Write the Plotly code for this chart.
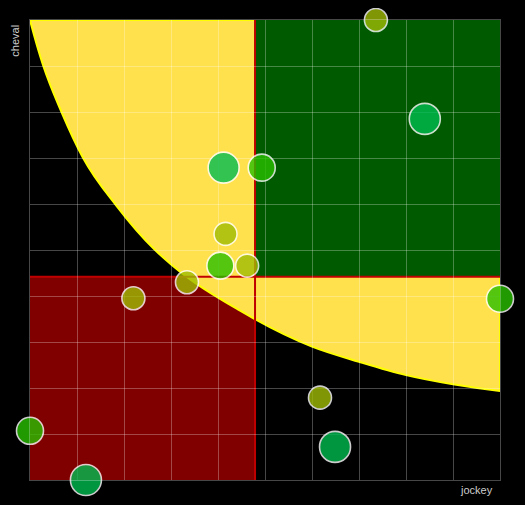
import numpy as np
import plotly.graph_objects as go

# ---- data (0-100 scale) ----
jockey = [73.6, 84.0, 41.2, 49.3, 41.6, 40.5, 46.2, 33.4, 22.0, 100.0, 61.7, 64.9, 0.0, 11.9]
cheval = [100.0, 78.5, 67.9, 67.9, 53.5, 46.6, 46.6, 43.0, 39.5, 39.4, 17.9, 7.2, 10.7, 0.0]
niveau = [1, 3, 3, 2, 1, 2, 1, 1, 1, 2, 1, 3, 2, 3]

# threshold curve, points
curve_x = [0, 2.8, 6.7, 11.3, 18.4, 26.5, 30.1, 44.7, 60, 70, 80, 90, 100]
curve_y = [100, 90.1, 80.0, 70.0, 59.6, 50.1, 46.8, 36.8, 29.0, 25.7, 22.8, 20.8, 19.35]

colors = {1: "#a0bc05", 2: "#2ac000", 3: "#00bc51"}
sizes = {1: 23, 2: 27, 3: 31}

mean_x = float(np.mean(jockey))
mean_y = float(np.mean(cheval))


def smooth_path(xs, ys):
    xs = np.asarray(xs, float)
    ys = np.asarray(ys, float)
    n = len(xs)
    h = np.diff(xs)
    d = np.diff(ys) / h
    m = np.zeros(n)
    for i in range(1, n - 1):
        m[i] = (d[i - 1] * h[i] + d[i] * h[i - 1]) / (h[i - 1] + h[i])
    m[0] = ((2 * h[0] + h[1]) * d[0] - h[0] * d[1]) / (h[0] + h[1])
    m[-1] = ((2 * h[-1] + h[-2]) * d[-1] - h[-1] * d[-2]) / (h[-1] + h[-2])
    p = f"M {xs[0]:.3f},{ys[0]:.3f}"
    for i in range(n - 1):
        c1x = xs[i] + h[i] / 3
        c1y = ys[i] + m[i] * h[i] / 3
        c2x = xs[i + 1] - h[i] / 3
        c2y = ys[i + 1] - m[i + 1] * h[i] / 3
        p += f" C {c1x:.3f},{c1y:.3f} {c2x:.3f},{c2y:.3f} {xs[i+1]:.3f},{ys[i+1]:.3f}"
    return p


curve = smooth_path(curve_x, curve_y)

fig = go.Figure()
fig.add_trace(go.Scatter(
    x=jockey, y=cheval, mode="markers",
    marker=dict(
        color=[colors[n] for n in niveau],
        size=[sizes[n] for n in niveau],
        opacity=0.8,
        line=dict(color="white", width=1.6),
    ),
    cliponaxis=False,
    hoverinfo="x+y",
    showlegend=False,
))

shapes = [
    dict(type="rect", xref="x", yref="y", x0=0, x1=mean_x, y0=0, y1=mean_y,
         fillcolor="#800000", line=dict(width=0), layer="below"),
    dict(type="path", xref="x", yref="y", path=curve + " L 100,100 Z",
         fillcolor="#ffe14d", line=dict(color="#ffff00", width=2), layer="below"),
    dict(type="rect", xref="x", yref="y", x0=mean_x, x1=100, y0=mean_y, y1=100,
         fillcolor="#005a00", line=dict(width=0), layer="below"),
    dict(type="line", xref="x", yref="y", x0=mean_x, x1=mean_x, y0=0, y1=100,
         line=dict(color="#c00000", width=2), layer="below"),
    dict(type="line", xref="x", yref="y", x0=0, x1=100, y0=mean_y, y1=mean_y,
         line=dict(color="#c00000", width=2), layer="below"),
]

grid = "rgba(255,255,255,0.28)"
axis_common = dict(range=[0, 100], dtick=10, showticklabels=False, ticks="",
                   showgrid=True, gridcolor=grid, gridwidth=1, zeroline=False,
                   showline=True, linecolor=grid, linewidth=1, mirror=True,
                   fixedrange=True)

fig.update_layout(
    width=517, height=497,
    margin=dict(l=22, r=25, t=12, b=25),
    paper_bgcolor="black", plot_bgcolor="black",
    xaxis=axis_common, yaxis=axis_common,
    shapes=shapes,
    font=dict(family="Liberation Sans, Arial, sans-serif", size=11, color="#cccccc"),
    annotations=[
        dict(text="cheval", xref="paper", yref="paper", x=-0.032, y=0.994,
             xanchor="center", yanchor="top", textangle=-90, showarrow=False,
             font=dict(size=11, color="#cccccc")),
        dict(text="jockey", xref="paper", yref="paper", x=0.99, y=-0.022,
             xanchor="right", yanchor="middle", showarrow=False,
             font=dict(size=11, color="#cccccc")),
    ],
)

fig.write_html("out.html", include_plotlyjs=True,
               post_script="document.body.style.background='black';")
